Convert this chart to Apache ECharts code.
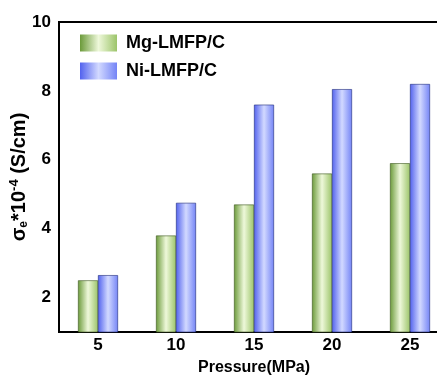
<!DOCTYPE html>
<html>
<head>
<meta charset="utf-8">
<script src="https://cdn.jsdelivr.net/npm/echarts@6/dist/echarts.min.js"></script>
<style>
  html, body { margin: 0; padding: 0; background: #fff; overflow: hidden; }
  #chart { width: 460px; height: 376px; }
</style>
</head>
<body>
<div id="chart"></div>
<script>
// 压力 (MPa)
const pressures = ["5", "10", "15", "20", "25"];
const mgValues = [2.5, 3.8, 4.7, 5.6, 5.9];
const niValues = [2.65, 4.75, 7.6, 8.05, 8.2];
const yTicks = [2, 4, 6, 8, 10];

const font = "Liberation Sans, Arial, sans-serif";

function barGrad(dark, light, mid) {
  return new echarts.graphic.LinearGradient(0, 0, 1, 0, [
    { offset: 0, color: dark },
    { offset: 0.5, color: light },
    { offset: 1, color: mid },
  ]);
}

const chart = echarts.init(document.getElementById("chart"));
chart.setOption({
  animation: false,
  textStyle: { fontFamily: font },
  grid: {
    left: 59,
    right: 11,
    top: 22,
    bottom: 44,
    outerBoundsMode: "none",
    show: true,
    borderColor: "#000",
    borderWidth: 2,
  },
  legend: {
    orient: "vertical",
    left: 75,
    top: 29,
    icon: "rect",
    itemWidth: 37,
    itemHeight: 17,
    itemGap: 10,
    itemStyle: { borderWidth: 0 },
    textStyle: { fontFamily: font, fontWeight: "bold", fontSize: 18, color: "#000", padding: [0, 0, 0, 4] },
    data: ["Mg-LMFP/C", "Ni-LMFP/C"],
  },
  xAxis: {
    type: "category",
    data: pressures,
    name: "Pressure(MPa)",
    nameLocation: "middle",
    nameGap: 28,
    nameMoveOverlap: false,
    nameTextStyle: { fontFamily: font, fontWeight: "bold", fontSize: 16, color: "#000" },
    axisLine: { lineStyle: { color: "#000", width: 2 } },
    axisTick: { alignWithLabel: true, length: 4, lineStyle: { color: "#000" } },
    axisLabel: { fontFamily: font, fontWeight: "bold", fontSize: 17, color: "#000", margin: 5 },
  },
  yAxis: {
    type: "value",
    min: 1,
    max: 10,
    interval: 1,
    name: "{b|σ}{sub|e}{b|*10}{sup|-4}{b| (S/cm)}",
    nameLocation: "middle",
    nameGap: 29,
    nameMoveOverlap: false,
    nameTextStyle: {
      rich: {
        b: { fontFamily: font, fontWeight: "bold", fontSize: 20, color: "#000" },
        sub: { fontFamily: font, fontWeight: "bold", fontSize: 12, color: "#000", verticalAlign: "bottom", padding: [9, 0, 0, 0] },
        sup: { fontFamily: font, fontWeight: "bold", fontSize: 13, color: "#000", verticalAlign: "top", padding: [0, 0, 9, 0] },
      },
    },
    axisLine: { show: true, lineStyle: { color: "#000", width: 2 } },
    axisTick: { length: 3, lineStyle: { color: "#000" } },
    splitLine: { show: false },
    axisLabel: {
      fontFamily: font,
      fontWeight: "bold",
      fontSize: 17,
      color: "#000",
      margin: 8,
      formatter: (v) => (yTicks.includes(v) ? String(v) : ""),
    },
  },
  series: [
    {
      name: "Mg-LMFP/C",
      type: "bar",
      data: mgValues,
      barWidth: 20,
      barGap: 0,
      itemStyle: {
        color: barGrad("#6b9a3a", "#eef8da", "#9cc46a"),
        borderColor: "#3c5620",
        borderWidth: 0.6,
      },
    },
    {
      name: "Ni-LMFP/C",
      type: "bar",
      data: niValues,
      barWidth: 20,
      itemStyle: {
        color: barGrad("#5262ee", "#d2d9ff", "#7484f6"),
        borderColor: "#1f2a78",
        borderWidth: 0.6,
      },
    },
  ],
});
</script>
</body>
</html>
